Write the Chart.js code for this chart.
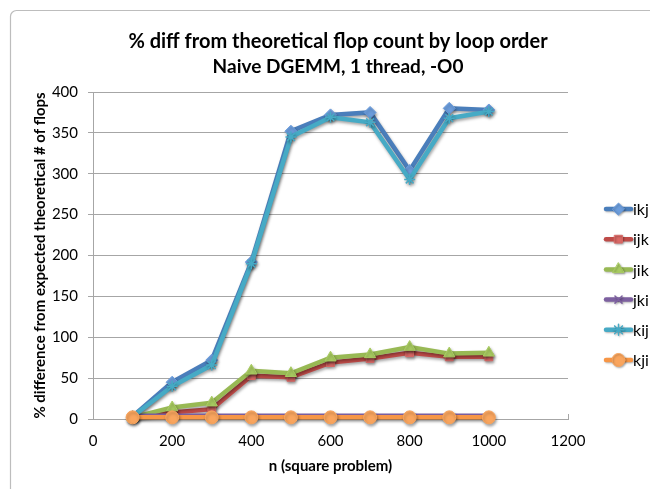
<!DOCTYPE html>
<html>
<head>
<meta charset="utf-8">
<title>% diff from theoretical flop count by loop order</title>
<script src="https://cdn.jsdelivr.net/npm/chart.js@4"></script>
<style>
  html, body { margin: 0; padding: 0; background: #fff; }
  #wrap { position: relative; width: 650px; height: 489px; }
</style>
</head>
<body>
<div id="wrap"><canvas id="c" width="650" height="489"></canvas></div>
<script>
// Problem sizes (n for an n x n DGEMM)
const sizes = [100, 200, 300, 400, 500, 600, 700, 800, 900, 1000];

// % difference from the theoretical flop count, per loop order
const ikj = [3, 45, 72, 192, 352, 372, 375, 304, 380, 378];
const ijk = [2, 8, 12, 53, 51, 69, 74, 81, 76, 76];
const jik = [2, 14, 20, 59, 56, 75, 79, 88, 80, 81];
const jki = [4, 4, 4, 4, 4, 4, 4, 4, 4, 4];
const kij = [3, 40, 66, 190, 345, 369, 363, 293, 368, 376];
const kji = [2, 2, 2, 2, 2, 2, 2, 2, 2, 2];

const xTicks = [0, 200, 400, 600, 800, 1000, 1200];
const yTicks = [0, 50, 100, 150, 200, 250, 300, 350, 400];

const titleLines = ['% diff from theoretical flop count by loop order', 'Naive DGEMM, 1 thread, -O0'];

const FONT = 'Lato, "Open Sans", "DejaVu Sans", sans-serif';

const seriesDefs = [
  { label: 'ikj', data: ikj, line: '#4A7EBB', fill: '#6C9DDC', style: 'rectRot', radius: 6 },
  { label: 'ijk', data: ijk, line: '#BE4B48', fill: '#DA6966', style: 'rect', radius: 5.5 },
  { label: 'jik', data: jik, line: '#98B954', fill: '#A9CC62', style: 'triangle', radius: 6.5 },
  { label: 'jki', data: jki, line: '#7D60A0', fill: '#7D60A0', style: 'crossRot', radius: 5 },
  { label: 'kij', data: kij, line: '#46AAC5', fill: '#46AAC5', style: 'star', radius: 5.5 },
  { label: 'kji', data: kji, line: '#F79646', fill: '#F9A55E', style: 'circle', radius: 6.5 }
];

const datasets = seriesDefs.map((s, i) => ({
  label: s.label,
  data: s.data.map((v, k) => ({ x: sizes[k], y: v })),
  borderColor: s.line,
  backgroundColor: s.fill,
  borderWidth: 4.5,
  pointStyle: s.style,
  pointRadius: s.radius,
  pointBorderColor: (s.style === 'crossRot' || s.style === 'star') ? s.line : s.fill,
  pointBorderWidth: (s.style === 'crossRot' || s.style === 'star') ? 1.5 : 1,
  pointBackgroundColor: s.fill,
  tension: 0,
  fill: false,
  clip: false,
  order: seriesDefs.length - i
}));

// Frame, title, inside tick marks and legend
const decorations = {
  id: 'decorations',
  beforeDraw(chart) {
    const ctx = chart.ctx;
    ctx.save();
    ctx.fillStyle = '#ffffff';
    ctx.fillRect(0, 0, chart.width, chart.height);
    ctx.strokeStyle = '#BDBDBD';
    ctx.lineWidth = 1.2;
    ctx.beginPath();
    ctx.roundRect(10.5, 10.5, 700, 600, 6);
    ctx.stroke();
    ctx.fillStyle = '#000';
    ctx.textAlign = 'center';
    ctx.textBaseline = 'middle';
    ctx.font = 'bold 20px ' + FONT;
    ctx.fillText(titleLines[0], 338, 42);
    ctx.font = 'bold 19px ' + FONT;
    ctx.fillText(titleLines[1], 338, 67);
    ctx.restore();
  },
  beforeDatasetsDraw(chart) {
    const ctx = chart.ctx;
    const xs = chart.scales.x;
    ctx.save();
    ctx.strokeStyle = '#A6A6A6';
    ctx.lineWidth = 1;
    xs.ticks.forEach(t => {
      const px = Math.round(xs.getPixelForValue(t.value)) + 0.5;
      ctx.beginPath();
      ctx.moveTo(px, xs.top);
      ctx.lineTo(px, xs.top - 5);
      ctx.stroke();
    });
    ctx.restore();
  },
  beforeDatasetDraw(chart) {
    const ctx = chart.ctx;
    ctx.save();
    ctx.shadowColor = 'rgba(0,0,0,0.35)';
    ctx.shadowBlur = 3;
    ctx.shadowOffsetX = 1;
    ctx.shadowOffsetY = 2;
  },
  afterDatasetDraw(chart) {
    chart.ctx.restore();
  },
  afterDraw(chart) {
    const ctx = chart.ctx;
    ctx.save();
    chart.data.datasets.forEach((ds, i) => {
      const y = 209 + i * 30.2;
      ctx.save();
      ctx.shadowColor = 'rgba(0,0,0,0.3)';
      ctx.shadowBlur = 2;
      ctx.shadowOffsetX = 1;
      ctx.shadowOffsetY = 1;
      ctx.strokeStyle = ds.borderColor;
      ctx.lineWidth = 4.5;
      ctx.lineCap = 'round';
      ctx.beginPath();
      ctx.moveTo(606, y);
      ctx.lineTo(631, y);
      ctx.stroke();
      ctx.fillStyle = ds.pointBackgroundColor;
      ctx.strokeStyle = ds.pointBorderColor;
      ctx.lineWidth = ds.pointBorderWidth;
      Chart.helpers.drawPoint(ctx, { pointStyle: ds.pointStyle, radius: ds.pointRadius, rotation: 0, borderWidth: ds.pointBorderWidth }, 618.5, y);
      ctx.restore();
      ctx.fillStyle = '#000';
      ctx.font = '16px ' + FONT;
      ctx.textAlign = 'left';
      ctx.textBaseline = 'middle';
      ctx.fillText(ds.label, 633, y + 1);
    });
    ctx.restore();
  }
};

new Chart(document.getElementById('c'), {
  type: 'line',
  data: { datasets },
  options: {
    responsive: false,
    animation: false,
    devicePixelRatio: 1,
    layout: { padding: { left: 0, top: 92, right: 82, bottom: 0 } },
    plugins: {
      legend: { display: false },
      title: { display: false },
      tooltip: { enabled: false }
    },
    scales: {
      x: {
        type: 'linear',
        min: 0,
        max: 1200,
        afterBuildTicks: s => { s.ticks = xTicks.map(v => ({ value: v })); },
        afterFit: s => { s.height = 70; },
        grid: { display: true, drawOnChartArea: false, drawTicks: false, color: '#A6A6A6' },
        border: { display: true, color: '#A6A6A6', width: 1 },
        ticks: {
          color: '#000',
          font: { family: FONT, size: 15 },
          padding: 13,
          maxRotation: 0,
          callback: v => String(v)
        },
        title: {
          display: true,
          text: 'n (square problem)',
          color: '#000',
          font: { family: FONT, size: 15, weight: 'bold' },
          padding: { top: 0, bottom: 14 }
        }
      },
      y: {
        min: 0,
        max: 400,
        afterBuildTicks: s => { s.ticks = yTicks.map(v => ({ value: v })); },
        afterFit: s => { s.width = 93; },
        grid: { color: '#A6A6A6', lineWidth: 1, tickLength: 5, drawTicks: true },
        border: { display: true, color: '#A6A6A6', width: 1 },
        ticks: { color: '#000', font: { family: FONT, size: 15 }, padding: 10 },
        title: {
          display: true,
          text: '% difference from expected theoretical # of flops',
          color: '#000',
          font: { family: FONT, size: 15, weight: 'bold' },
          padding: { top: 31, bottom: 0 }
        }
      }
    }
  },
  plugins: [decorations]
});
</script>
</body>
</html>
